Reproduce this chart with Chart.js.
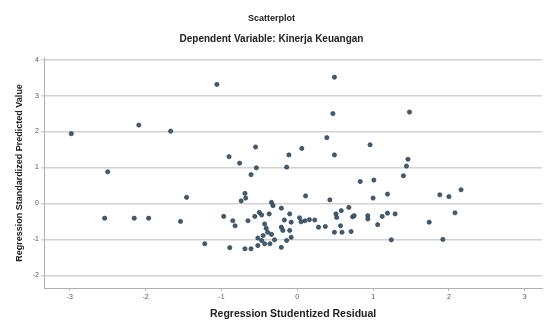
<!DOCTYPE html>
<html>
<head>
<meta charset="utf-8">
<script src="https://cdn.jsdelivr.net/npm/chart.js@4.4.1/dist/chart.umd.min.js"></script>
<style>
  html, body { margin: 0; padding: 0; background: #ffffff; }
  #wrap { width: 545px; height: 320px; }
</style>
</head>
<body>
<div id="wrap"><canvas id="c" width="545" height="320"></canvas></div>
<script>
// Studentized residuals (x) against standardized predicted values (y)
const residualX = [
  -2.98, -2.50, -2.09, -1.67, -1.06, -2.54, -2.15, -1.96, -1.54, -1.46, -1.22,
  -0.90, -0.76, -0.55, -0.54, -0.61, -0.11, -0.14, 0.06, 0.39, 0.49, 0.49, 0.47,
  1.48, 0.96, 0.83, 1.01, 1.46, 1.44, 1.40,
  -0.69, -0.68, -0.74, -0.34, -0.32, -0.21, 0.11, 0.43, 1.00, 1.19, 1.88, 2.00,
  2.16, 2.08, 1.74, 1.24, 1.92,
  -0.97, -0.85, -0.82, -0.65, -0.56, -0.50, -0.47, -0.37, -0.10, -0.17, -0.08,
  0.03, 0.05, 0.10, -0.43, -0.41, -0.39, -0.45, -0.52, -0.21, -0.19, -0.10,
  -0.34, -0.30, -0.47, -0.43, -0.52, -0.36, -0.14, -0.21, -0.08, -0.89, -0.69,
  -0.61, 0.16, 0.23, 0.28, 0.37, 0.51, 0.52, 0.58, 0.68, 0.73, 0.75, 0.57, 0.49,
  0.59, 0.71, 0.93, 0.93, 1.06, 1.12, 1.19, 1.29
];
const predictedY = [
  1.94, 0.88, 2.18, 2.01, 3.31, -0.41, -0.41, -0.41, -0.50, 0.17, -1.12,
  1.30, 1.12, 1.57, 0.99, 0.80, 1.35, 1.01, 1.53, 1.83, 1.35, 3.51, 2.50,
  2.54, 1.63, 0.61, 0.65, 1.23, 1.04, 0.77,
  0.28, 0.15, 0.07, 0.03, -0.06, -0.13, 0.21, 0.10, 0.15, 0.26, 0.24, 0.19,
  0.38, -0.26, -0.52, -1.01, -1.00,
  -0.36, -0.48, -0.62, -0.48, -0.36, -0.25, -0.32, -0.29, -0.29, -0.46, -0.52,
  -0.40, -0.51, -0.48, -0.57, -0.69, -0.80, -0.89, -0.96, -0.66, -0.75, -0.75,
  -0.86, -1.01, -1.03, -1.12, -1.17, -1.12, -1.03, -1.22, -0.94, -1.23, -1.26,
  -1.26, -0.45, -0.46, -0.66, -0.64, -0.29, -0.39, -0.20, -0.11, -0.37, -0.34,
  -0.62, -0.80, -0.80, -0.78, -0.34, -0.43, -0.59, -0.36, -0.27, -0.29
];
const xTickValues = [-3, -2, -1, 0, 1, 2, 3];
const yTickValues = [-2, -1, 0, 1, 2, 3, 4];

const points = residualX.map((x, i) => ({ x: x, y: predictedY[i] }));
const FONT = "'Liberation Sans', Arial, sans-serif";

new Chart(document.getElementById('c'), {
  type: 'scatter',
  data: {
    datasets: [{
      data: points,
      pointRadius: 2.1,
      pointHoverRadius: 2.1,
      backgroundColor: '#3d5f78',
      borderColor: '#2c3a47',
      borderWidth: 0.7
    }]
  },
  options: {
    responsive: false,
    animation: false,
    devicePixelRatio: 1,
    layout: { padding: { left: 0, right: 2, top: 0, bottom: 0 } },
    plugins: {
      legend: { display: false },
      tooltip: { enabled: false },
      title: {
        display: true,
        text: 'Scatterplot',
        color: '#222',
        font: { family: FONT, size: 9, weight: 'bold' },
        padding: { top: 13, bottom: 7 }
      },
      subtitle: {
        display: true,
        text: 'Dependent Variable: Kinerja Keuangan',
        color: '#222',
        font: { family: FONT, size: 10, weight: 'bold' },
        padding: { top: 2, bottom: 13 }
      }
    },
    scales: {
      x: {
        type: 'linear',
        min: -3.34,
        max: 3.23,
        afterFit: (s) => { s.height = 32; },
        afterBuildTicks: (s) => { s.ticks = xTickValues.map(v => ({ value: v })); },
        ticks: {
          includeBounds: false,
          stepSize: 1,
          color: '#555',
          padding: 2,
          maxRotation: 0,
          font: { family: FONT, size: 7 }
        },
        grid: { drawOnChartArea: false, drawTicks: true, tickLength: 3, color: '#b8b8b8' },
        border: { display: true, color: '#b0b0b0', width: 1 },
        title: {
          display: true,
          text: 'Regression Studentized Residual',
          color: '#222',
          font: { family: FONT, size: 10.5, weight: 'bold' },
          padding: { top: 0, bottom: 0 }
        }
      },
      y: {
        type: 'linear',
        min: -2.35,
        max: 4.05,
        afterFit: (s) => { s.width = 44; },
        afterBuildTicks: (s) => { s.ticks = yTickValues.map(v => ({ value: v })); },
        ticks: {
          includeBounds: false,
          stepSize: 1,
          color: '#555',
          padding: 2,
          font: { family: FONT, size: 7 }
        },
        grid: { color: '#d2d2d2', lineWidth: 1.5, drawTicks: true, tickLength: 3 },
        border: { display: true, color: '#b0b0b0', width: 1 },
        title: {
          display: true,
          text: 'Regression Standardized Predicted Value',
          color: '#222',
          font: { family: FONT, size: 9, weight: 'bold' },
          padding: { top: 14, bottom: 0 }
        }
      }
    }
  }
});
</script>
</body>
</html>
